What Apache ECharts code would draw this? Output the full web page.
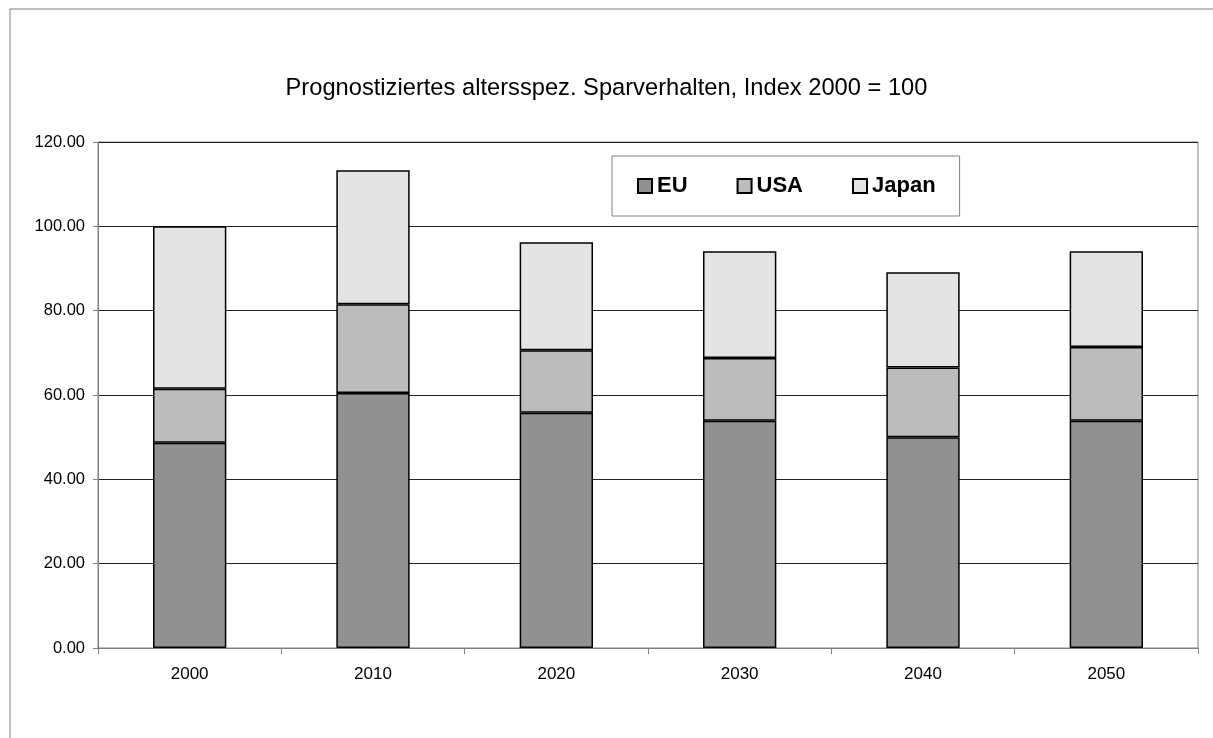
<!DOCTYPE html>
<html>
<head>
<meta charset="utf-8">
<script src="https://cdn.jsdelivr.net/npm/echarts@6/dist/echarts.min.js"></script>
<style>
  html, body { margin: 0; padding: 0; background: #fff; }
  #chart { width: 1213px; height: 738px; }
</style>
</head>
<body>
<div id="chart"></div>
<script>
const years = ['2000', '2010', '2020', '2030', '2040', '2050']
const euValues = [48.7, 60.5, 55.8, 53.9, 50.0, 53.9]
const usaValues = [12.8, 21.0, 14.8, 14.9, 16.5, 17.5]
const japanValues = [38.5, 31.8, 25.6, 25.3, 22.6, 22.7]

const font = 'Arial, "Liberation Sans", sans-serif'
const chart = echarts.init(document.getElementById('chart'))

const barSeries = (name, data, color) => ({
  name,
  type: 'bar',
  stack: 'total',
  data,
  barWidth: '40%',
  itemStyle: { color, borderColor: '#000', borderWidth: 1.5 },
  emphasis: { disabled: true }
})

chart.setOption({
  animation: false,
  backgroundColor: '#fff',
  graphic: [{
    type: 'rect',
    shape: { x: 10, y: 9, width: 1220, height: 740 },
    style: { fill: 'none', stroke: '#808080', lineWidth: 1 }
  }],
  title: {
    text: 'Prognostiziertes altersspez. Sparverhalten, Index 2000 = 100',
    left: 'center',
    top: 71,
    textStyle: { fontFamily: font, fontSize: 23.7, fontWeight: 'normal', color: '#000' }
  },
  legend: {
    data: ['EU', 'USA', 'Japan'],
    left: 612,
    top: 156,
    padding: [19, 24, 19, 25],
    itemGap: 49,
    itemWidth: 14,
    itemHeight: 14,
    icon: 'rect',
    borderColor: '#808080',
    borderWidth: 1,
    textStyle: { fontFamily: font, fontSize: 22, fontWeight: 'bold', color: '#000' }
  },
  grid: {
    left: 98, right: 15, top: 142, bottom: 90,
    show: true, borderColor: '#808080', borderWidth: 1
  },
  xAxis: {
    type: 'category',
    data: years,
    axisLine: { lineStyle: { color: '#808080' } },
    axisTick: { show: true, length: 6, lineStyle: { color: '#808080' } },
    axisLabel: { fontFamily: font, fontSize: 17, color: '#000', margin: 18 }
  },
  yAxis: {
    type: 'value',
    min: 0,
    max: 120,
    interval: 20,
    axisLine: { show: true, lineStyle: { color: '#808080' } },
    axisTick: { show: true, length: 5, lineStyle: { color: '#808080' } },
    axisLabel: {
      fontFamily: font, fontSize: 16.5, color: '#000', margin: 13,
      formatter: v => v.toFixed(2)
    },
    splitLine: { lineStyle: { color: '#222', width: 1 } }
  },
  series: [
    barSeries('EU', euValues, '#919191'),
    barSeries('USA', usaValues, '#bcbcbc'),
    barSeries('Japan', japanValues, '#e4e4e4')
  ]
})
</script>
</body>
</html>
